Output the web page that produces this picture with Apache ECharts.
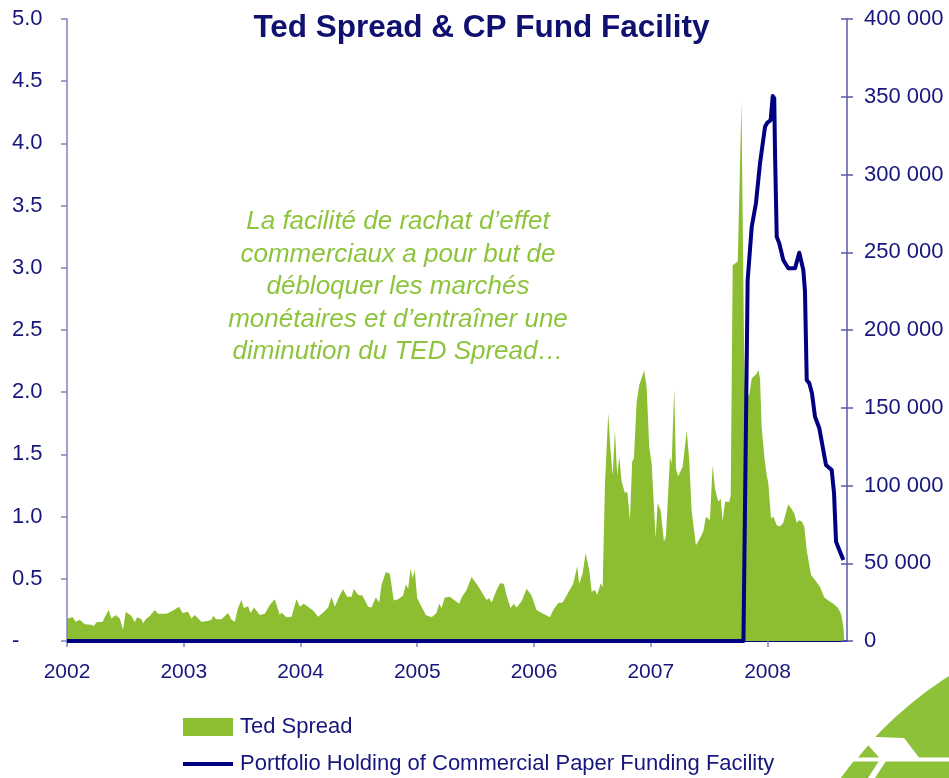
<!DOCTYPE html>
<html>
<head>
<meta charset="utf-8">
<script src="https://cdn.jsdelivr.net/npm/echarts@6/dist/echarts.min.js"></script>
<style>
html,body{margin:0;padding:0;background:#ffffff;}
#chart{width:949px;height:778px;}
</style>
</head>
<body>
<div id="chart"></div>
<script>
// ---- DATA ----
const titleText = 'Ted Spread & CP Fund Facility';
const seriesNames = ['Ted Spread', 'Portfolio Holding of Commercial Paper Funding Facility'];
const noteLines = [
  'La facilité de rachat d\u2019effet',
  'commerciaux a pour but de',
  'débloquer les marchés',
  'monétaires et d\u2019entraîner une',
  'diminution du TED Spread\u2026'
];

const tedYears = [
  2002.000,2002.049,2002.075,2002.109,2002.152,2002.209,2002.231,2002.252,2002.306,2002.323,
  2002.340,2002.357,2002.380,2002.417,2002.452,2002.480,2002.503,2002.552,2002.580,2002.600,
  2002.638,2002.651,2002.674,2002.709,2002.751,2002.780,2002.852,2002.908,2002.960,2002.989,
  2003.037,2003.066,2003.094,2003.152,2003.208,2003.237,2003.251,2003.280,2003.323,2003.380,
  2003.409,2003.437,2003.465,2003.494,2003.514,2003.551,2003.572,2003.602,2003.651,2003.694,
  2003.737,2003.780,2003.823,2003.837,2003.880,2003.923,2003.966,2003.994,2004.028,2004.065,
  2004.108,2004.151,2004.194,2004.237,2004.266,2004.294,2004.337,2004.365,2004.399,2004.437,
  2004.457,2004.494,2004.531,2004.579,2004.608,2004.645,2004.674,2004.694,2004.731,2004.765,
  2004.799,2004.836,2004.879,2004.902,2004.922,2004.943,2004.960,2004.979,2004.999,2005.037,
  2005.074,2005.123,2005.165,2005.188,2005.208,2005.236,2005.279,2005.359,2005.380,2005.422,
  2005.465,2005.508,2005.551,2005.594,2005.616,2005.637,2005.680,2005.708,2005.742,2005.765,
  2005.799,2005.828,2005.851,2005.894,2005.937,2005.979,2006.022,2006.065,2006.102,2006.136,
  2006.165,2006.207,2006.245,2006.279,2006.336,2006.370,2006.387,2006.416,2006.442,2006.473,
  2006.494,2006.522,2006.542,2006.571,2006.588,2006.608,2006.636,2006.656,2006.674,2006.693,
  2006.713,2006.730,2006.751,2006.779,2006.799,2006.822,2006.841,2006.856,2006.879,2006.901,
  2006.944,2006.965,2006.987,2007.008,2007.042,2007.059,2007.085,2007.113,2007.130,2007.165,
  2007.179,2007.201,2007.216,2007.235,2007.273,2007.308,2007.330,2007.350,2007.387,2007.422,
  2007.450,2007.473,2007.507,2007.530,2007.550,2007.578,2007.599,2007.616,2007.636,2007.673,
  2007.685,2007.702,2007.745,2007.777,2007.800,2007.808,2007.842,2007.865,2007.908,2007.922,
  2007.936,2007.950,2007.973,2007.993,2008.007,2008.030,2008.050,2008.079,2008.107,2008.135,
  2008.156,2008.178,2008.207,2008.230,2008.250,2008.270,2008.293,2008.315,2008.336,2008.373,
  2008.407,2008.450,2008.487,2008.521,2008.564,2008.601,2008.630,2008.650,2008.658
];
const tedValues = [
  0.18,0.19,0.155,0.17,0.135,0.13,0.12,0.15,0.155,0.19,
  0.18,0.25,0.18,0.21,0.18,0.09,0.235,0.20,0.15,0.19,
  0.175,0.14,0.175,0.20,0.25,0.22,0.22,0.245,0.275,0.225,
  0.235,0.18,0.21,0.155,0.16,0.17,0.20,0.175,0.175,0.225,
  0.17,0.155,0.265,0.33,0.265,0.28,0.225,0.27,0.21,0.22,
  0.29,0.335,0.21,0.23,0.19,0.195,0.335,0.275,0.30,0.275,
  0.245,0.195,0.23,0.27,0.355,0.275,0.37,0.415,0.355,0.355,
  0.42,0.37,0.365,0.275,0.27,0.35,0.31,0.45,0.555,0.54,
  0.325,0.335,0.365,0.455,0.42,0.585,0.505,0.57,0.345,0.275,
  0.21,0.19,0.225,0.30,0.265,0.35,0.355,0.30,0.35,0.41,
  0.515,0.46,0.395,0.33,0.345,0.31,0.41,0.465,0.46,0.365,
  0.265,0.30,0.27,0.32,0.42,0.365,0.25,0.225,0.21,0.19,
  0.25,0.305,0.31,0.365,0.46,0.60,0.46,0.54,0.705,0.57,
  0.395,0.41,0.37,0.465,0.43,1.265,1.83,1.53,1.33,1.69,
  1.33,1.485,1.28,1.19,1.20,0.975,1.44,1.47,1.92,2.055,
  2.175,2.04,1.56,1.425,0.825,1.11,1.05,0.80,0.84,1.48,
  1.425,2.03,1.385,1.325,1.40,1.69,1.45,1.05,0.77,0.825,
  0.88,1.00,0.97,1.41,1.225,1.12,1.145,0.96,1.12,1.12,
  1.17,3.02,3.05,4.33,2.3,2.0,1.97,2.11,2.15,2.18,
  2.11,1.72,1.48,1.33,1.27,0.985,1.00,0.93,0.92,0.95,
  1.025,1.10,1.06,1.025,0.95,0.97,0.96,0.92,0.73,0.53,
  0.49,0.435,0.35,0.325,0.30,0.27,0.22,0.115,0
];

const cpYears = [
  2002.000,2007.794,2007.830,2007.865,2007.901,2007.936,2007.979,2007.998,2008.027,2008.045,
  2008.058,2008.064,2008.079,2008.101,2008.135,2008.178,2008.236,2008.272,2008.287,2008.307,
  2008.321,2008.336,2008.358,2008.381,2008.407,2008.444,2008.501,2008.550,2008.570,2008.587,
  2008.615,2008.650
];
const cpValues = [
  0,0,232000,266400,281500,307200,330700,333300,335000,350500,
  349000,315700,260000,255700,245000,239700,239700,249700,249700,238600,
  225000,167800,165700,159300,144200,136800,113200,110000,95000,63900,
  58500,52100
];

const xRange = [2002, 2008.681];
const leftRange = [0, 5];
const rightRange = [0, 400000];

// ---- CHART ----
const FONT = '"Liberation Sans", Arial, sans-serif';
const NAVY = '#16167c';
const GREEN = '#8dbe31';
const LINE_BLUE = '#000080';
const AXIS_LIGHT = '#8282c2';

const tedData = tedYears.map((y, i) => [y, tedValues[i]]);
const cpData = cpYears.map((y, i) => [y, cpValues[i]]);

function spaceThousands(v) {
  return String(Math.round(v)).replace(/\B(?=(\d{3})+(?!\d))/g, ' ');
}

const chart = echarts.init(document.getElementById('chart'), null, {renderer: 'canvas'});
chart.setOption({
  animation: false,
  backgroundColor: '#ffffff',
  textStyle: {fontFamily: FONT},
  grid: {left: 67, right: 102, top: 19, bottom: 137, containLabel: false},
  xAxis: {
    type: 'value',
    min: xRange[0], max: xRange[1], interval: 1,
    axisLine: {show: true, lineStyle: {color: LINE_BLUE, width: 2}},
    axisTick: {show: true, length: 6, lineStyle: {color: AXIS_LIGHT, width: 1.5}},
    axisLabel: {
      margin: 21, color: NAVY, fontSize: 21, fontFamily: FONT,
      showMaxLabel: false,
      formatter: v => Math.abs(v - Math.round(v)) < 1e-6 ? String(Math.round(v)) : ''
    },
    splitLine: {show: false}
  },
  yAxis: [
    {
      type: 'value', position: 'left',
      min: leftRange[0], max: leftRange[1], interval: 0.5, z: 3,
      axisLine: {show: true, lineStyle: {color: AXIS_LIGHT, width: 1.5}},
      axisTick: {show: true, length: 6, lineStyle: {color: AXIS_LIGHT, width: 1.5}},
      axisLabel: {
        align: 'left', margin: 55, color: NAVY, fontSize: 22, fontFamily: FONT,
        formatter: v => v === 0 ? '-' : v.toFixed(1)
      },
      splitLine: {show: false}
    },
    {
      type: 'value', position: 'right',
      min: rightRange[0], max: rightRange[1], interval: 50000, z: 3,
      axisLine: {show: true, lineStyle: {color: '#5a5aa6', width: 1.5}},
      axisTick: {show: true, length: 6, lineStyle: {color: '#5a5aa6', width: 1.5}},
      axisLabel: {
        align: 'left', margin: 17, color: NAVY, fontSize: 22, fontFamily: FONT,
        formatter: v => spaceThousands(v)
      },
      splitLine: {show: false}
    },
    {
      type: 'value', position: 'right', offset: 0,
      min: rightRange[0], max: rightRange[1], interval: 50000, z: 3,
      axisLine: {show: false},
      axisTick: {show: true, inside: true, length: 6, lineStyle: {color: '#5a5aa6', width: 1.5}},
      axisLabel: {show: false},
      splitLine: {show: false}
    }
  ],
  legend: [
    {
      left: 183, top: 716, orient: 'vertical', padding: 0,
      itemWidth: 50, itemHeight: 18, itemGap: 0,
      textStyle: {color: NAVY, fontSize: 22, fontFamily: FONT, padding: [0, 0, 0, 2]},
      data: [{name: seriesNames[0], icon: 'rect'}],
      selectedMode: false
    },
    {
      left: 183, top: 753, orient: 'vertical', padding: 0,
      itemWidth: 50, itemHeight: 18, itemGap: 0,
      textStyle: {color: NAVY, fontSize: 22, fontFamily: FONT, padding: [0, 0, 0, 2]},
      data: [{name: seriesNames[1], icon: 'path://M0,0 L50,0 L50,4 L0,4 Z'}],
      selectedMode: false
    }
  ],
  series: [
    {
      name: seriesNames[0], type: 'line', yAxisIndex: 0,
      data: tedData, symbol: 'none', showSymbol: false,
      color: GREEN,
      lineStyle: {width: 0, color: GREEN},
      itemStyle: {color: GREEN},
      areaStyle: {color: GREEN, opacity: 1},
      z: 2
    },
    {
      name: seriesNames[1], type: 'line', yAxisIndex: 1,
      data: cpData, symbol: 'none', showSymbol: false,
      color: LINE_BLUE,
      lineStyle: {width: 4, color: LINE_BLUE, join: 'round'},
      itemStyle: {color: LINE_BLUE},
      z: 4
    }
  ],
  graphic: [
    {
      type: 'text', x: 481.5, y: 28.5, z: 10,
      style: {
        text: titleText, fill: '#101070', fontSize: 31.5, fontWeight: 'bold',
        fontFamily: FONT, align: 'center', verticalAlign: 'middle'
      }
    },
    {
      type: 'text', x: 398, y: 287, z: 10,
      style: {
        text: noteLines.join('\n'), fill: '#8cc43c', fontSize: 26, fontStyle: 'italic',
        fontFamily: FONT, align: 'center', verticalAlign: 'middle', lineHeight: 32.5
      }
    },
    {
      type: 'circle', z: 1,
      shape: {cx: 1165, cy: 1013.5, r: 400.7},
      style: {fill: '#8dc13a'}
    },
    {
      type: 'polygon', z: 2,
      shape: {points: [[850, 736], [904, 738], [919, 757.5], [949, 757.5], [949, 761.5], [850, 761.5]]},
      style: {fill: '#ffffff'}
    },
    {
      type: 'polygon', z: 3,
      shape: {points: [[858, 757.5], [868.3, 745.3], [879, 757.5]]},
      style: {fill: '#8dc13a'}
    },
    {
      type: 'polygon', z: 3,
      shape: {points: [[879, 761], [886, 761], [875, 778], [868, 778]]},
      style: {fill: '#ffffff'}
    }
  ]
});
</script>
</body>
</html>
